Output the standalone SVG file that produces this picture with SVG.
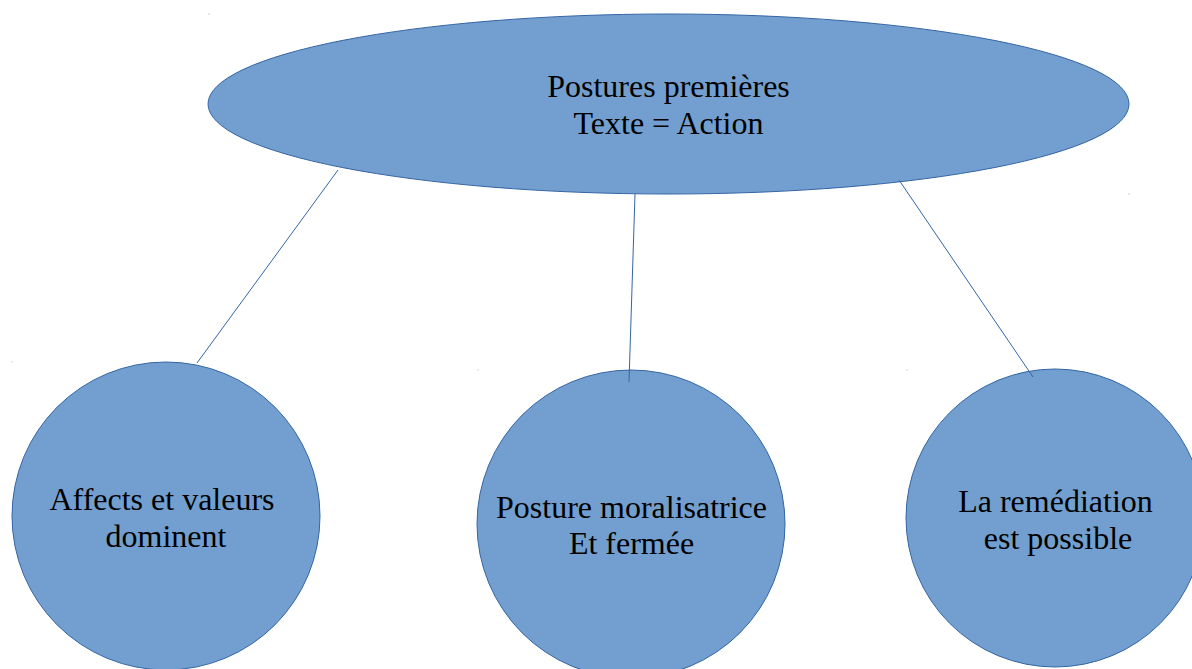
<svg xmlns="http://www.w3.org/2000/svg" width="1192" height="669" viewBox="0 0 1192 669">
<style>
.shape{fill:#729fcf;stroke:#3465a4;stroke-width:1}
.conn{stroke:#3465a4;stroke-width:1;fill:none}
.lbl{font-family:"Liberation Serif","Times New Roman",serif;font-size:32px;fill:#000;text-anchor:middle}
.dot{fill:#3465a4;opacity:0.5}
</style>
<rect width="1192" height="669" fill="#fff"/>
<g id="node-top">
<ellipse class="shape" cx="668.5" cy="104" rx="460.5" ry="90"/>
<text class="lbl" x="668.5" y="97">Postures premières</text>
<text class="lbl" x="668.5" y="134">Texte = Action</text>
</g>
<g id="node-left">
<circle class="shape" cx="166" cy="516" r="154"/>
<text class="lbl" x="162" y="510">Affects et valeurs</text>
<text class="lbl" x="166" y="547">dominent</text>
</g>
<g id="node-middle">
<circle class="shape" cx="631" cy="524" r="154"/>
<text class="lbl" x="631.5" y="518">Posture moralisatrice</text>
<text class="lbl" x="631.5" y="554">Et fermée</text>
</g>
<g id="node-right">
<circle class="shape" cx="1055" cy="518" r="149"/>
<text class="lbl" x="1055.5" y="512">La remédiation</text>
<text class="lbl" x="1058" y="549">est possible</text>
</g>
<g id="connectors">
<line class="conn" x1="338" y1="170" x2="197" y2="363"/>
<line class="conn" x1="635" y1="194" x2="629" y2="382"/>
<line class="conn" x1="899" y1="180" x2="1033" y2="377"/>
</g>
<g id="specks">
<rect class="dot" x="208.5" y="13.5" width="1" height="1"/>
<rect class="dot" x="11.5" y="361.5" width="1" height="1"/>
<rect class="dot" x="477.5" y="369.5" width="1" height="1"/>
<rect class="dot" x="906.5" y="369.5" width="1" height="1"/>
<rect class="dot" x="1128.5" y="193.5" width="1" height="1"/>
</g>
</svg>
